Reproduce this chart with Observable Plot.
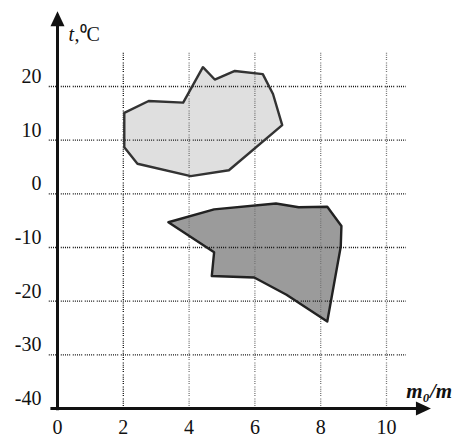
<!DOCTYPE html>
<html>
<head>
<meta charset="utf-8">
<script src="https://cdn.jsdelivr.net/npm/d3@7"></script>
<script src="https://cdn.jsdelivr.net/npm/@observablehq/plot@0.6"></script>
<style>
  html, body { margin: 0; padding: 0; background: #fff; }
  #chart svg { display: block; }
</style>
</head>
<body>
<div id="chart"></div>
<script>
// Tick values / labels
const xTicks = [0, 2, 4, 6, 8, 10];
const yTicks = [-40, -30, -20, -10, 0, 10, 20];
const xGrid = [2, 4, 6, 8, 10];
const yGrid = [-30, -20, -10, 0, 10, 20];

// Upper (light) region: m0/m and t values
const lightX = [2.03, 2.77, 3.82, 4.42, 4.78, 5.39, 6.24, 6.55, 6.83, 5.21, 4.05, 2.43, 2.03];
const lightY = [15.1, 17.3, 17.0, 23.6, 21.3, 22.9, 22.3, 18.6, 12.8, 4.4, 3.3, 5.6, 8.7];

// Lower (dark) region
const darkX = [3.37, 4.76, 6.64, 7.33, 8.2, 8.63, 8.61, 8.2, 6.96, 5.98, 4.69, 4.76];
const darkY = [-5.3, -2.9, -1.8, -2.5, -2.4, -6.0, -9.8, -23.8, -18.8, -15.6, -15.3, -10.9];

const light = lightX.map((x, i) => ({x, y: lightY[i]}));
const dark = darkX.map((x, i) => ({x, y: darkY[i]}));

// axis extents (data units)
const xMin = -0.2, xAxisEnd = 11.0, xTip = 11.35, xGridEnd = 10.6;
const yMin = -40.4, yAxisEnd = 32.0, yTip = 34.0, yGridTop = 26.2;

const arrowHead = {
  draw(ctx) {
    ctx.moveTo(0, 0);
    ctx.lineTo(-7, 15);
    ctx.lineTo(7, 15);
    ctx.closePath();
  }
};

const font = "Liberation Serif, Times New Roman, serif";
const dash = "1,1.1,1,1.1,1,1.1,1,1.1,1,2.6";

const chart = Plot.plot({
  width: 452,
  height: 438,
  marginLeft: 57,
  marginRight: 66,
  marginTop: 86,
  marginBottom: 30,
  x: {domain: [0, 10], axis: null},
  y: {domain: [-40, 20], axis: null},
  marks: [
    // region fills
    Plot.line(light, {x: "x", y: "y", curve: "linear-closed", fill: "#dfdfdf", stroke: "none"}),
    Plot.line(dark, {x: "x", y: "y", curve: "linear-closed", fill: "#9b9b9b", stroke: "none"}),
    // grid
    Plot.ruleX(xGrid.filter(d => d === 2), {x: d => d, y1: -40, y2: yGridTop,
      stroke: "#111", strokeWidth: 1.3, strokeDasharray: dash}),
    Plot.ruleX(xGrid.filter(d => d !== 2), {x: d => d, y1: -40, y2: yGridTop,
      stroke: "#777", strokeWidth: 1.3, strokeDasharray: dash}),
    Plot.ruleY(yGrid, {y: d => d, x1: -0.25, x2: xGridEnd,
      stroke: "#111", strokeWidth: 1.3, strokeDasharray: dash}),
    // region outlines
    Plot.line(light, {x: "x", y: "y", curve: "linear-closed", stroke: "#333", strokeWidth: 2.4, fill: "none"}),
    Plot.line(dark, {x: "x", y: "y", curve: "linear-closed", stroke: "#222", strokeWidth: 2.4, fill: "none"}),
    // axes
    Plot.ruleX([0], {x: d => d, y1: yMin, y2: yAxisEnd, stroke: "#111", strokeWidth: 3}),
    Plot.ruleY([-40], {y: d => d, x1: xMin, x2: xAxisEnd, stroke: "#111", strokeWidth: 3}),
    Plot.dot([0], {x: 0, y: yTip, symbol: arrowHead, fill: "#111", stroke: "none", r: 5}),
    Plot.dot([0], {x: xTip, y: -40, symbol: arrowHead, fill: "#111", stroke: "none", r: 5, rotate: 90}),
    // tick labels
    Plot.text(yTicks, {x: 0, y: d => d, text: d => String(d), textAnchor: "end", dx: -16, dy: -10,
      fontFamily: font, fontSize: 20, fill: "#111"}),
    Plot.text(xTicks, {x: d => d, y: -40, text: d => String(d), dy: 19,
      fontFamily: font, fontSize: 20, fill: "#111"}),
    // axis titles
    Plot.text(["t"], {x: 0, y: yTip, text: d => d, textAnchor: "start", lineAnchor: "bottom",
      dx: 11, dy: 30, fontFamily: font, fontSize: 20, fontStyle: "italic", fill: "#111"}),
    Plot.text([",\u2070C"], {x: 0, y: yTip, text: d => d, textAnchor: "start", lineAnchor: "bottom",
      dx: 17, dy: 30, fontFamily: font, fontSize: 20, fill: "#111"}),
    Plot.text(["m\u2080/m"], {x: xGridEnd, y: -40, text: d => d, textAnchor: "start", lineAnchor: "bottom",
      dx: 0, dy: -11, fontFamily: font, fontSize: 21, fontStyle: "italic", fontWeight: "bold", fill: "#111"})
  ]
});

document.getElementById("chart").append(chart);
</script>
</body>
</html>
